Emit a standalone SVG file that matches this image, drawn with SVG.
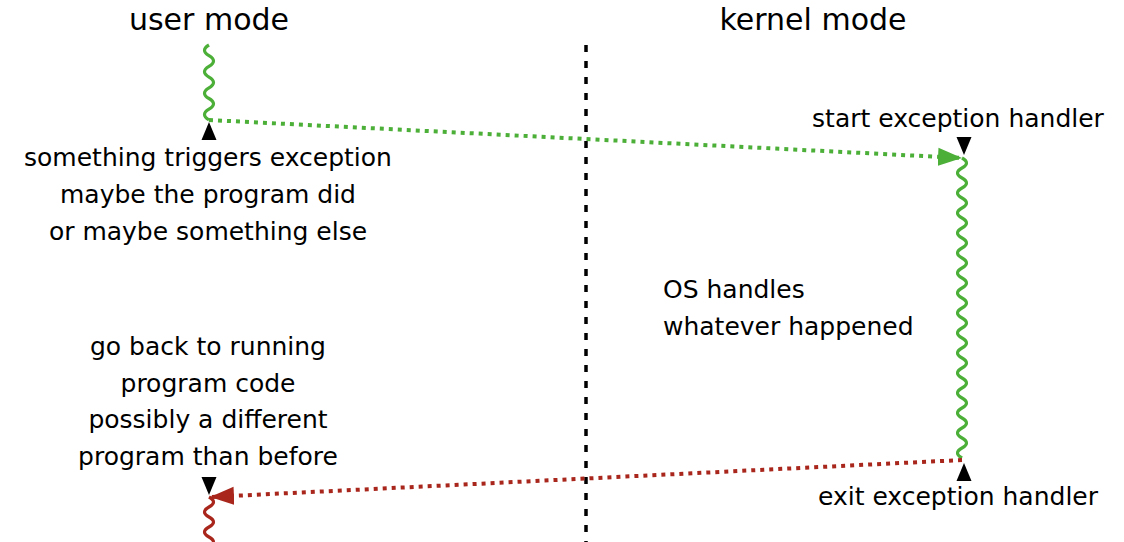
<svg xmlns="http://www.w3.org/2000/svg" width="1124" height="542" viewBox="0 0 1124 542">
<style>
text{font-family:"DejaVu Sans","Liberation Sans",sans-serif;fill:#000}
.title{font-size:30px;text-anchor:middle}
.lbl{font-size:25px}
.c{text-anchor:middle}
.wg{fill:none;stroke:#4caf38;stroke-width:3.2}
.wr{fill:none;stroke:#a8261c;stroke-width:3.2}
.dg{fill:none;stroke:#4caf38;stroke-width:4;stroke-dasharray:4 5}
.dr{fill:none;stroke:#a8261c;stroke-width:4;stroke-dasharray:4 5}
.sep{fill:none;stroke:#000;stroke-width:3.5;stroke-dasharray:7 9}
.tri{fill:#000}
</style>
<defs>
<marker id="ag" markerUnits="userSpaceOnUse" markerWidth="26" markerHeight="20" viewBox="0 0 26 20" refX="24" refY="10" orient="auto"><path d="M0,1 L24,10 L0,19 Z" fill="#4caf38"/></marker>
<marker id="ar" markerUnits="userSpaceOnUse" markerWidth="26" markerHeight="20" viewBox="0 0 26 20" refX="24" refY="10" orient="auto"><path d="M0,1 L24,10 L0,19 Z" fill="#a8261c"/></marker>
</defs>
<g id="titles">
<text class="title" x="209" y="30">user mode</text>
<text class="title" x="813" y="30">kernel mode</text>
</g>
<g id="separator"><path class="sep" d="M586,45 V542"/></g>
<g id="user-run">
<path class="wg" d="M209,45 q-9,5.35 0,10.7 t0,10.7 t0,10.7 t0,10.7 t0,10.7 t0,10.7 t0,10.7"/>
<path class="tri" d="M209,122 L216.5,140 L201.5,140 Z"/>
</g>
<g id="kernel-run">
<path class="tri" d="M964,155 L956.5,137 L971.5,137 Z"/>
<path class="wg" d="M962,158 q9,5 0,10 t0,10 t0,10 t0,10 t0,10 t0,10 t0,10 t0,10 t0,10 t0,10 t0,10 t0,10 t0,10 t0,10 t0,10 t0,10 t0,10 t0,10 t0,10 t0,10 t0,10 t0,10 t0,10 t0,10 t0,10 t0,10 t0,10 t0,10 t0,10 t0,10"/>
<path class="tri" d="M964,463 L971.5,481 L956.5,481 Z"/>
</g>
<g id="user-resume">
<path class="tri" d="M209,495 L201.5,477 L216.5,477 Z"/>
<path class="wr" d="M209,497 q9,5 0,10 t0,10 t0,10 t0,10 t0,10"/>
</g>
<g id="connectors">
<path class="dg" d="M209,120 L962,158" marker-end="url(#ag)"/>
<path class="dr" d="M962,460 L210,497" marker-end="url(#ar)"/>
</g>
<g id="labels-user">
<text class="lbl c" x="208" y="166">something triggers exception</text>
<text class="lbl c" x="208" y="203">maybe the program did</text>
<text class="lbl c" x="208" y="240">or maybe something else</text>
<text class="lbl c" x="208" y="355">go back to running</text>
<text class="lbl c" x="208" y="392">program code</text>
<text class="lbl c" x="208" y="428">possibly a different</text>
<text class="lbl c" x="208" y="465">program than before</text>
</g>
<g id="labels-kernel">
<text class="lbl c" x="958" y="127">start exception handler</text>
<text class="lbl" x="663" y="298">OS handles</text>
<text class="lbl" x="663" y="335">whatever happened</text>
<text class="lbl c" x="958" y="505">exit exception handler</text>
</g>
</svg>
